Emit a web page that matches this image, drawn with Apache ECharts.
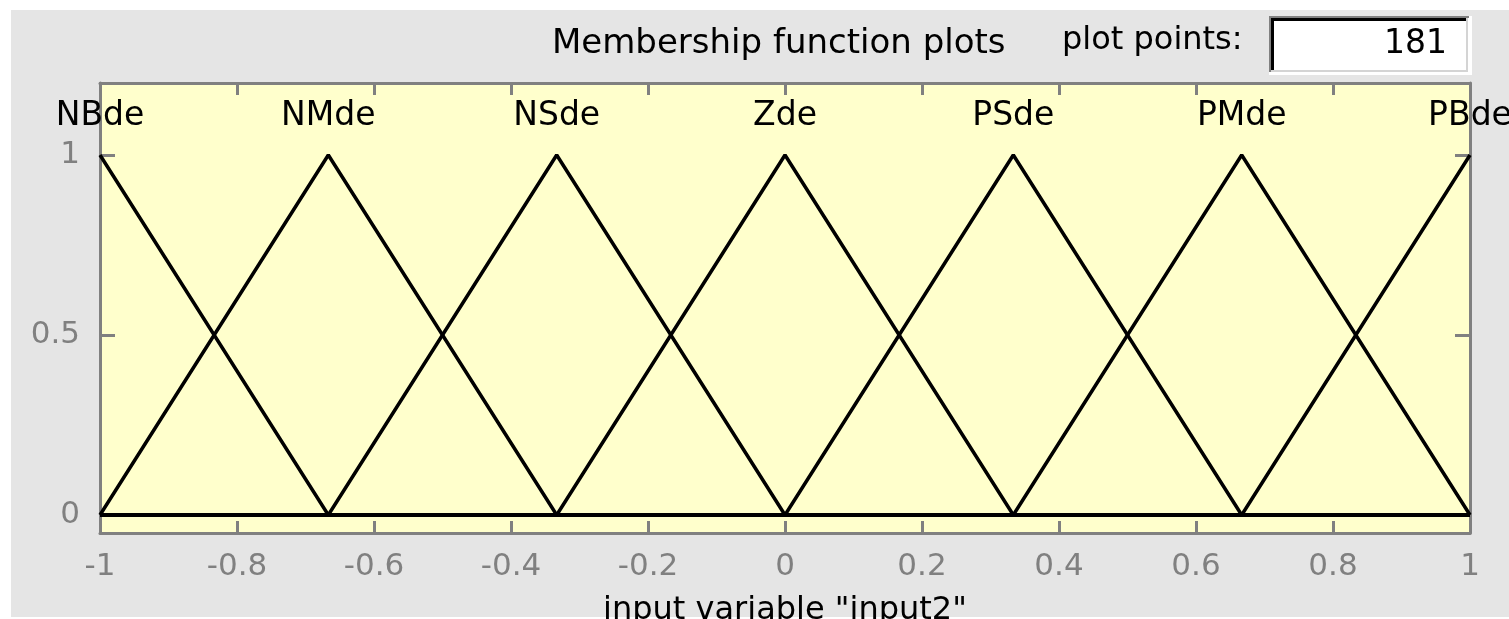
<!DOCTYPE html>
<html>
<head>
<meta charset="utf-8">
<script src="https://cdn.jsdelivr.net/npm/echarts@6/dist/echarts.min.js"></script>
<style>
  html, body { margin: 0; padding: 0; background: #ffffff; }
  #chart { width: 1509px; height: 619px; }
</style>
</head>
<body>
<div id="chart"></div>
<script>
// Membership functions of input2: triangular (trimf) parameters [a, b, c]
const mfNames = ['NBde', 'NMde', 'NSde', 'Zde', 'PSde', 'PMde', 'PBde'];
const mfParams = [
  [-1.3333, -1.0, -0.6667],
  [-1.0, -0.6667, -0.3333],
  [-0.6667, -0.3333, 0.0],
  [-0.3333, 0.0, 0.3333],
  [0.0, 0.3333, 0.6667],
  [0.3333, 0.6667, 1.0],
  [0.6667, 1.0, 1.3333]
];
const inputRange = [-1, 1];
const xTicks = [-1, -0.8, -0.6, -0.4, -0.2, 0, 0.2, 0.4, 0.6, 0.8, 1];
const yTicks = [0, 0.5, 1];
const plotPoints = 181;

const FONT = 'DejaVu Sans';
const GRAY = '#808080';

// triangular membership value
function trimf(x, p) {
  const [a, b, c] = p;
  if (x <= a || x >= c) return (x === b) ? 1 : 0;
  if (x <= b) return b === a ? 1 : (x - a) / (b - a);
  return c === b ? 1 : (c - x) / (c - b);
}

// vertices of each curve over the input range
function curvePoints(p) {
  const xs = [inputRange[0], ...p, inputRange[1]]
    .filter(x => x >= inputRange[0] && x <= inputRange[1]);
  const uniq = Array.from(new Set(xs)).sort((u, v) => u - v);
  return uniq.map(x => [x, trimf(x, p)]);
}

const lineSeries = mfParams.map((p, i) => ({
  name: mfNames[i],
  type: 'line',
  data: curvePoints(p),
  showSymbol: false,
  lineStyle: { color: '#000000', width: 3.5 },
  animation: false,
  z: 2
}));

const labelSeries = {
  type: 'scatter',
  symbolSize: 0,
  itemStyle: { opacity: 1 },
  data: mfParams.map((p, i) => ({ name: mfNames[i], value: [p[1], 1] })),
  label: {
    show: true,
    position: 'top',
    distance: 22,
    formatter: d => d.name,
    color: '#000000',
    opacity: 1,
    fontFamily: FONT,
    fontSize: 33
  },
  silent: true,
  animation: false,
  z: 3
};

const chart = echarts.init(document.getElementById('chart'), null, { renderer: 'canvas' });

const commonX = {
  type: 'value',
  min: inputRange[0],
  max: inputRange[1],
  interval: 0.2,
  splitLine: { show: false },
  axisLine: { show: true, onZero: false, lineStyle: { color: GRAY, width: 3 } },
  axisTick: { show: true, inside: true, length: 12, lineStyle: { color: GRAY, width: 3 } }
};
const commonY = {
  type: 'value',
  min: -0.05,
  max: 1.2,
  splitLine: { show: false },
  axisLine: { show: true, onZero: false, lineStyle: { color: GRAY, width: 3 } },
  axisTick: { show: true, inside: true, length: 15, customValues: yTicks, lineStyle: { color: GRAY, width: 3 } }
};

chart.setOption({
  backgroundColor: '#ffffff',
  animation: false,
  grid: {
    left: 100, right: 39, top: 83, bottom: 86,
    outerBoundsMode: 'none',
    containLabel: false,
    show: true, backgroundColor: '#ffffcc', borderWidth: 0
  },
  xAxis: [
    Object.assign({}, commonX, {
      position: 'bottom',
      name: 'input variable "input2"',
      nameLocation: 'middle',
      nameGap: 62,
      nameTextStyle: { color: '#000000', fontFamily: FONT, fontSize: 32 },
      axisLabel: {
        show: true, margin: 18, color: GRAY, fontFamily: FONT, fontSize: 31,
        customValues: xTicks,
        formatter: v => String(Math.round(v * 10) / 10)
      },
      axisTick: Object.assign({}, commonX.axisTick, { customValues: xTicks })
    }),
    Object.assign({}, commonX, {
      position: 'top',
      axisLabel: { show: false },
      axisTick: Object.assign({}, commonX.axisTick, { customValues: xTicks })
    })
  ],
  yAxis: [
    Object.assign({}, commonY, {
      position: 'left',
      axisLabel: {
        show: true, margin: 20, color: GRAY, fontFamily: FONT, fontSize: 31,
        customValues: yTicks,
        formatter: v => String(v)
      }
    }),
    Object.assign({}, commonY, {
      position: 'right',
      axisLabel: { show: false }
    })
  ],
  graphic: [
    // panel background
    { type: 'rect', z: -10, silent: true,
      shape: { x: 11, y: 10, width: 1498, height: 607 },
      style: { fill: '#e5e5e5' } },
    // heading
    { type: 'text', z: 5, silent: true, x: 552, y: 44,
      style: { text: 'Membership function plots', fill: '#000000',
        font: '34px "' + FONT + '"', verticalAlign: 'middle', align: 'left' } },
    { type: 'text', z: 5, silent: true, x: 1062, y: 41,
      style: { text: 'plot points:', fill: '#000000',
        font: '32px "' + FONT + '"', verticalAlign: 'middle', align: 'left' } },
    // edit box
    { type: 'rect', z: 5, silent: true,
      shape: { x: 1269, y: 16, width: 203, height: 59 }, style: { fill: '#ffffff' } },
    { type: 'rect', z: 6, silent: true,
      shape: { x: 1269, y: 16, width: 200, height: 2 }, style: { fill: GRAY } },
    { type: 'rect', z: 6, silent: true,
      shape: { x: 1269, y: 16, width: 2, height: 56 }, style: { fill: GRAY } },
    { type: 'rect', z: 6, silent: true,
      shape: { x: 1271, y: 18, width: 196, height: 3 }, style: { fill: '#000000' } },
    { type: 'rect', z: 6, silent: true,
      shape: { x: 1271, y: 18, width: 3, height: 52 }, style: { fill: '#000000' } },
    { type: 'rect', z: 6, silent: true,
      shape: { x: 1466, y: 18, width: 2, height: 54 }, style: { fill: '#d4d4d4' } },
    { type: 'rect', z: 6, silent: true,
      shape: { x: 1271, y: 70, width: 197, height: 2 }, style: { fill: '#d4d4d4' } },
    { type: 'text', z: 7, silent: true, x: 1447, y: 44,
      style: { text: String(plotPoints), fill: '#000000',
        font: '33px "' + FONT + '"', verticalAlign: 'middle', align: 'right' } }
  ],
  series: lineSeries.concat([labelSeries])
});
</script>
</body>
</html>
